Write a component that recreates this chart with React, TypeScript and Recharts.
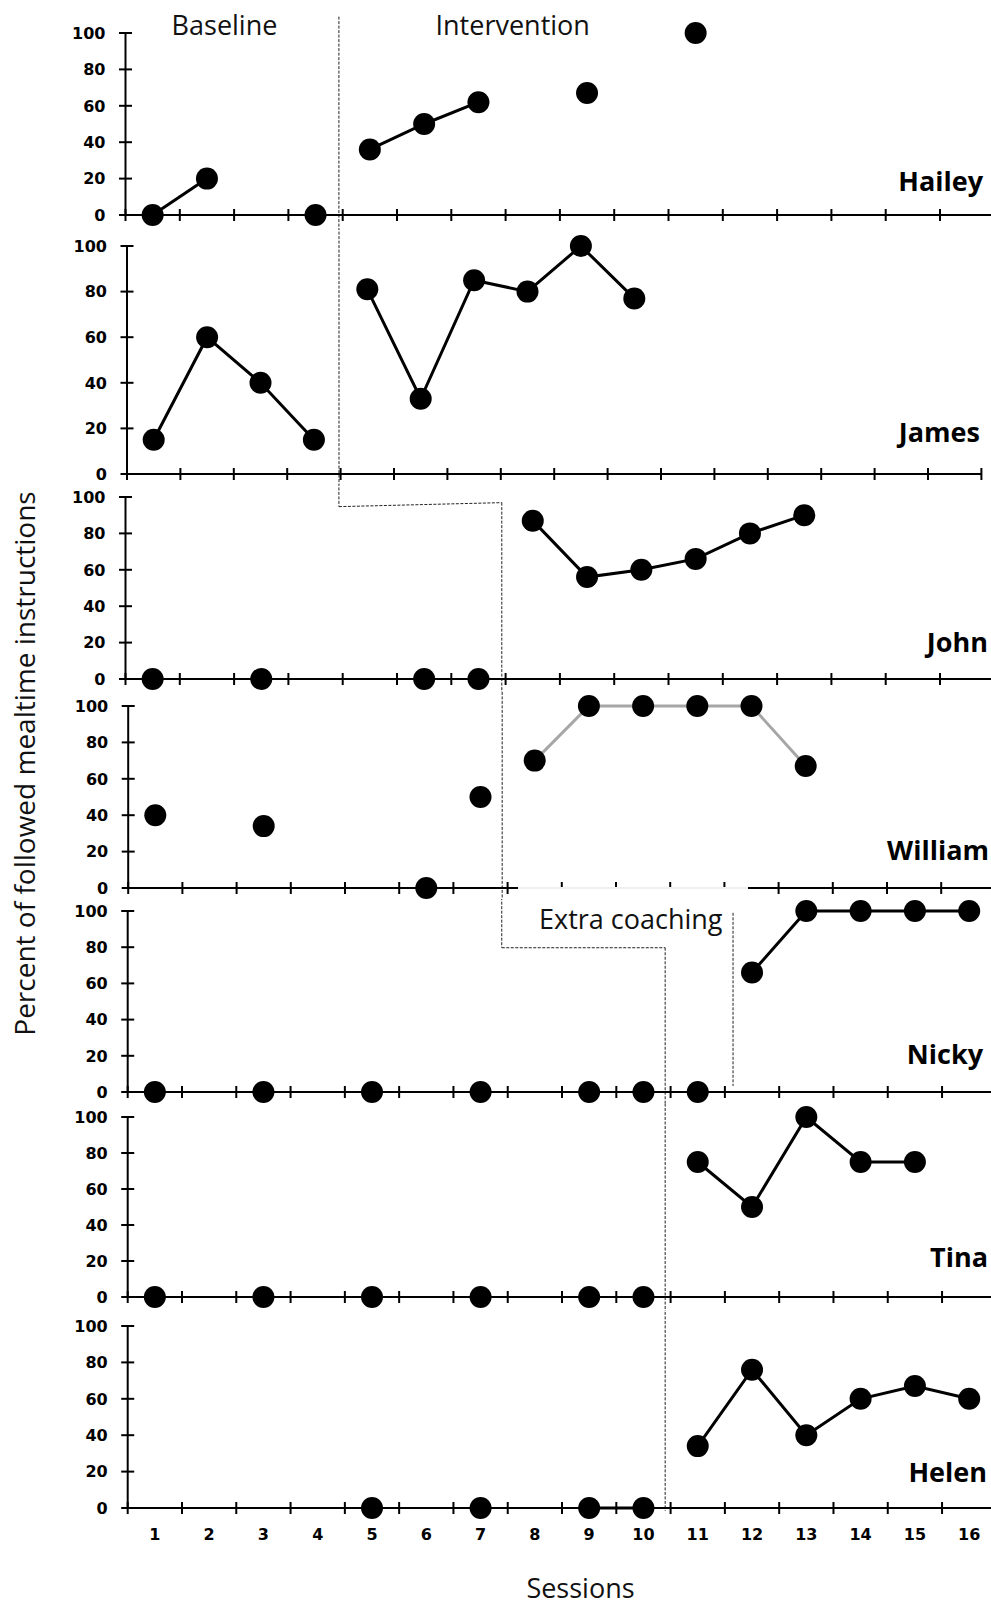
import React from 'react';
import { LineChart, Line, XAxis, YAxis, ReferenceLine } from 'recharts';

// ---------- data ----------
const n = null;
const sessions = [1, 2, 3, 4, 5, 6, 7, 8, 9, 10, 11, 12, 13, 14, 15, 16];
const sessionLabels = ['1', '2', '3', '4', '5', '6', '7', '8', '9', '10', '11', '12', '13', '14', '15', '16'];
const sessionBoundaries = [0.5, 1.5, 2.5, 3.5, 4.5, 5.5, 6.5, 7.5, 8.5, 9.5, 10.5, 11.5, 12.5, 13.5, 14.5, 15.5, 16.5];
const percentTicks = [0, 20, 40, 60, 80, 100];
const participantNames = ['Hailey', 'James', 'John', 'William', 'Nicky', 'Tina', 'Helen'];

const haileyBaseline = [0, 20, n, 0, n, n, n, n, n, n, n, n, n, n, n, n];
const haileyIntervention = [n, n, n, n, 36, 50, 62, n, 67, n, 100, n, n, n, n, n];

const jamesBaseline = [15, 60, 40, 15, n, n, n, n, n, n, n, n, n, n, n, n];
const jamesIntervention = [n, n, n, n, 81, 33, 85, 80, 100, 77, n, n, n, n, n, n];

const johnBaseline = [0, n, 0, n, n, 0, 0, n, n, n, n, n, n, n, n, n];
const johnIntervention = [n, n, n, n, n, n, n, 87, 56, 60, 66, 80, 90, n, n, n];

const williamBaseline = [40, n, 34, n, n, 0, 50, n, n, n, n, n, n, n, n, n];
const williamIntervention = [n, n, n, n, n, n, n, 70, 100, 100, 100, 100, 67, n, n, n];

const nickyBaseline = [0, n, 0, n, 0, n, 0, n, 0, 0, n, n, n, n, n, n];
const nickyIntervention = [n, n, n, n, n, n, n, n, n, n, 0, n, n, n, n, n];
const nickyExtraCoaching = [n, n, n, n, n, n, n, n, n, n, n, 66, 100, 100, 100, 100];

const tinaBaseline = [0, n, 0, n, 0, n, 0, n, 0, 0, n, n, n, n, n, n];
const tinaIntervention = [n, n, n, n, n, n, n, n, n, n, 75, 50, 100, 75, 75, n];

const helenBaseline = [n, n, n, n, 0, n, 0, n, 0, 0, n, n, n, n, n, n];
const helenIntervention = [n, n, n, n, n, n, n, n, n, n, 34, 76, 40, 60, 67, 60];

// phase-change line segments per panel, in (session, percent) units: [x1, y1, x2, y2]
const haileyPhase = [[4.43, 109, 4.43, -20]];
const jamesPhase = [[4.47, 130, 4.47, -20]];
const johnPhase = [[4.43, 130, 4.43, 94.7], [4.43, 94.7, 7.43, 96.9], [7.43, 96.9, 7.43, -20]];
const williamPhase = [[7.4, 130, 7.4, -20]];
const nickyPhase = [[7.39, 130, 7.39, 79.7], [7.39, 79.7, 10.4, 79.7], [10.4, 79.7, 10.4, -20], [11.65, 99, 11.65, 3.3]];
const tinaPhase = [[10.4, 130, 10.4, -20]];
const helenPhase = [[10.4, 130, 10.4, -1.5]];

type Series = { key: string; values: (number | null)[]; joined: boolean; color: string };

const panels: { series: Series[]; phase: number[][] }[] = [
  {
    series: [
      { key: 'baseline', values: haileyBaseline, joined: true, color: '#000' },
      { key: 'intervention', values: haileyIntervention, joined: true, color: '#000' },
    ],
    phase: haileyPhase,
  },
  {
    series: [
      { key: 'baseline', values: jamesBaseline, joined: true, color: '#000' },
      { key: 'intervention', values: jamesIntervention, joined: true, color: '#000' },
    ],
    phase: jamesPhase,
  },
  {
    series: [
      { key: 'baseline', values: johnBaseline, joined: false, color: '#000' },
      { key: 'intervention', values: johnIntervention, joined: true, color: '#000' },
    ],
    phase: johnPhase,
  },
  {
    series: [
      { key: 'baseline', values: williamBaseline, joined: false, color: '#000' },
      { key: 'intervention', values: williamIntervention, joined: true, color: '#a6a6a6' },
    ],
    phase: williamPhase,
  },
  {
    series: [
      { key: 'baseline', values: nickyBaseline, joined: false, color: '#000' },
      { key: 'intervention', values: nickyIntervention, joined: false, color: '#000' },
      { key: 'extra', values: nickyExtraCoaching, joined: true, color: '#000' },
    ],
    phase: nickyPhase,
  },
  {
    series: [
      { key: 'baseline', values: tinaBaseline, joined: false, color: '#000' },
      { key: 'intervention', values: tinaIntervention, joined: true, color: '#000' },
    ],
    phase: tinaPhase,
  },
  {
    series: [
      { key: 'baseline', values: helenBaseline, joined: true, color: '#000' },
      { key: 'intervention', values: helenIntervention, joined: true, color: '#000' },
    ],
    phase: helenPhase,
  },
];

// ---------- layout (pixels) ----------
const layout = [
  { top: 0, bottom: 229, y100: 33, y0: 215, origin: 125.5, band: 54.3, nameX: 983, nameY: 190.5 },
  { top: 229, bottom: 485, y100: 246, y0: 474, origin: 127, band: 53.4, nameX: 980, nameY: 441.5 },
  { top: 485, bottom: 692, y100: 497, y0: 679, origin: 125.5, band: 54.3, nameX: 988, nameY: 652 },
  { top: 692, bottom: 899, y100: 706, y0: 888, origin: 128.2, band: 54.2, nameX: 989, nameY: 859.5 },
  { top: 899, bottom: 1104, y100: 911, y0: 1092, origin: 127.7, band: 54.29, nameX: 983, nameY: 1063.5 },
  { top: 1104, bottom: 1311, y100: 1117, y0: 1297, origin: 127.7, band: 54.29, nameX: 988, nameY: 1267 },
  { top: 1311, bottom: 1606, y100: 1326, y0: 1508, origin: 127.7, band: 54.29, nameX: 987, nameY: 1482 },
];

const CHART_W = 1000;
const NUM_FONT = '"DejaVu Sans", Verdana, sans-serif';
const TEXT_FONT = '"Open Sans", "Noto Sans", sans-serif';
const DASH = { stroke: '#222', strokeWidth: 1, strokeDasharray: '3 1.5' };

function Panel({ idx }: { idx: number }) {
  const L = layout[idx];
  const P = panels[idx];
  const isBottom = idx === panels.length - 1;
  const height = L.bottom - L.top;
  const plotH = L.y0 - L.y100;
  const plotW = L.band * 16;
  const xAxisH = isBottom ? 60 : 8;
  const marginTop = L.y100 - L.top;
  const marginBottom = height - marginTop - plotH - xAxisH;
  const marginRight = CHART_W - L.origin - plotW;

  const rows = sessions.map((s, i) => {
    const r: any = { s };
    P.series.forEach((ser) => {
      r[ser.key] = ser.values[i];
    });
    return r;
  });

  const yTick = (p: any) => (
    <g>
      <line x1={p.x - 6.5} x2={p.x + 6.5} y1={p.y} y2={p.y} stroke="#000" strokeWidth={2} />
      <text
        x={p.x - 20}
        y={p.y + 5.8}
        textAnchor="end"
        fontFamily={NUM_FONT}
        fontWeight="bold"
        fontSize={16}
        fill="#000"
      >
        {p.payload.value}
      </text>
    </g>
  );

  const xTick = (p: any) => (
    <g>
      <line x1={p.x} x2={p.x} y1={p.y - 6} y2={p.y + 6} stroke="#000" strokeWidth={2} />
      {isBottom && p.index < sessionLabels.length ? (
        <text
          x={p.x + L.band / 2}
          y={p.y + 32}
          textAnchor="middle"
          fontFamily={NUM_FONT}
          fontWeight="bold"
          fontSize={16}
          fill="#000"
        >
          {sessionLabels[p.index]}
        </text>
      ) : null}
    </g>
  );

  return (
    <LineChart
      width={CHART_W}
      height={height}
      data={rows}
      margin={{ top: marginTop, right: marginRight, bottom: marginBottom, left: 0 }}
    >
      <XAxis
        type="number"
        dataKey="s"
        domain={[0.5, 16.5]}
        ticks={sessionBoundaries}
        interval={0}
        height={xAxisH}
        tickSize={0}
        tickMargin={0}
        tickLine={false}
        axisLine={{ stroke: '#000', strokeWidth: 2 }}
        tick={xTick}
      />
      <YAxis
        type="number"
        domain={[0, 100]}
        ticks={percentTicks}
        interval={0}
        width={L.origin}
        tickSize={0}
        tickMargin={0}
        tickLine={false}
        axisLine={{ stroke: '#000', strokeWidth: 2 }}
        tick={yTick}
      />
      {P.phase.map((seg, i) => (
        <ReferenceLine
          key={'ph' + i}
          segment={[
            { x: seg[0], y: seg[1] },
            { x: seg[2], y: seg[3] },
          ]}
          ifOverflow="visible"
          {...DASH}
        />
      ))}
      {P.series.map((ser) => (
        <Line
          key={ser.key}
          type="linear"
          dataKey={ser.key}
          stroke={ser.joined ? ser.color : 'none'}
          strokeWidth={3}
          connectNulls={false}
          dot={{ r: 11, fill: '#000', stroke: 'none' }}
          activeDot={false}
          isAnimationActive={false}
        />
      ))}
    </LineChart>
  );
}

export default function App() {
  return (
    <div
      style={{
        position: 'absolute',
        left: 0,
        top: 0,
        width: 991,
        height: 1606,
        overflow: 'hidden',
        background: '#fff',
      }}
    >
      <div style={{ position: 'absolute', left: 0, top: 0, width: CHART_W }}>
        {panels.map((_, i) => (
          <Panel key={i} idx={i} />
        ))}
      </div>
      <svg
        width={991}
        height={1606}
        style={{ position: 'absolute', left: 0, top: 0, pointerEvents: 'none' }}
      >
        <rect x={518} y={887} width={230} height={9} fill="#fff" />
        <line x1={518} x2={748} y1={888} y2={888} stroke="#e0e0e0" strokeWidth={1} />
        {participantNames.map((nm, i) => (
          <text
            key={nm}
            x={layout[i].nameX}
            y={layout[i].nameY}
            textAnchor="end"
            fontFamily={TEXT_FONT}
            fontWeight="bold"
            fontSize={27}
            fill="#000"
          >
            {nm}
          </text>
        ))}
        <text x={224.5} y={34.5} textAnchor="middle" fontFamily={TEXT_FONT} fontSize={27} fill="#111">
          Baseline
        </text>
        <text x={512.7} y={34.5} textAnchor="middle" fontFamily={TEXT_FONT} fontSize={27} fill="#111">
          Intervention
        </text>
        <text x={539} y={928.5} textAnchor="start" fontFamily={TEXT_FONT} fontSize={27} fill="#111">
          Extra coaching
        </text>
        <text x={580.5} y={1598} textAnchor="middle" fontFamily={TEXT_FONT} fontSize={27} fill="#111">
          Sessions
        </text>
        <text
          x={35}
          y={763.5}
          transform="rotate(-90 35 763.5)"
          textAnchor="middle"
          fontFamily={TEXT_FONT}
          fontSize={28}
          fill="#111"
        >
          Percent of followed mealtime instructions
        </text>
      </svg>
    </div>
  );
}
